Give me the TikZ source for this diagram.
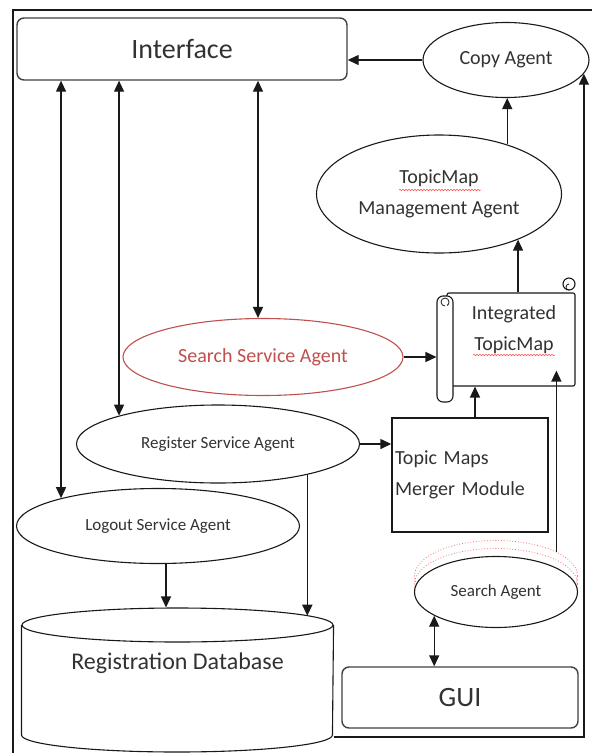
\documentclass[tikz,border=0pt]{standalone}
\usepackage{fontspec}
\setmainfont{Carlito}
\usetikzlibrary{shapes.geometric,arrows.meta,decorations.pathmorphing}

\definecolor{linegray}{RGB}{25,25,25}
\definecolor{textgray}{RGB}{50,50,50}
\definecolor{ssared}{RGB}{192,80,77}

\newcommand{\fontbig}{\fontsize{28}{34}\selectfont}
\newcommand{\fontmid}{\fontsize{20}{31}\selectfont}
\newcommand{\fontsmall}{\fontsize{17}{22}\selectfont}
\newcommand{\fontdb}{\fontsize{24}{29}\selectfont}

\tikzset{
  agent/.style={ellipse, draw=linegray, line width=1.1pt, fill=white, inner sep=0pt, text=textgray},
  panel/.style={draw=black!75, line width=1.4pt, rounded corners=7pt, text=textgray, font=\fontbig},
  arr/.style={-{Triangle[length=11pt,width=10pt]}, line width=1.4pt, draw=linegray},
  dbl/.style={{Triangle[length=11pt,width=10pt]}-{Triangle[length=11pt,width=10pt]}, line width=1.4pt, draw=linegray},
  spell/.style={draw=red!70, line width=0.5pt, decorate, decoration={snake, segment length=3pt, amplitude=0.8pt}},
}

\begin{document}
\begin{tikzpicture}[x=1pt, y=-1pt]
        \useasboundingbox (0,0) rectangle (592,753);

        % Frame round the picture
        \draw[line width=1.4pt, linegray] (13,753) -- (13,10) -- (592,10);

        % Top row
        \node[panel, minimum width=330pt, minimum height=62pt] (interface) at (182,49) {Interface};
        \node[agent, minimum width=166pt, minimum height=75pt, font=\fontmid] (copy) at (506,60) {Copy Agent};
        \node[agent, minimum width=245pt, minimum height=118pt, font=\fontmid, align=center] (mgmt) at (439,194) {TopicMap\\Management Agent};

        % Integrated topic map scroll
        \node[draw=linegray, line width=1.1pt, fill=white, rounded corners=2pt, minimum width=128pt, minimum height=93pt, inner sep=0pt] (integ) at (511,339.5) {};
        \node[draw=linegray, line width=1.1pt, fill=white, rounded corners=6pt, minimum width=16pt, minimum height=106pt, inner sep=0pt] (integcol) at (445,349) {};
        \draw[linegray, line width=1.1pt, fill=white] (569,284) circle (6pt);
        \draw[linegray, line width=0.8pt] (569,290) arc[start angle=270, end angle=90, radius=3pt];
        \draw[linegray, line width=0.8pt] (445,306) arc[start angle=270, end angle=-60, radius=4pt];
        \node[text=textgray, font=\fontmid, align=center] (integtext) at (514,330) {Integrated\\TopicMap};

        % Middle row
        \node[agent, draw=ssared, text=ssared, minimum width=280pt, minimum height=77pt, font=\fontmid] (ssa) at (263,357) {Search Service Agent};
        \node[agent, minimum width=283pt, minimum height=78pt, font=\fontsmall] (reg) at (218,444) {Register Service Agent};
        \node[agent, minimum width=283pt, minimum height=75pt, font=\fontsmall] (logout) at (158,526) {Logout Service Agent};
        \node[draw=linegray, line width=1.4pt, minimum height=114pt, text width=150pt, inner xsep=3pt, align=left, font=\fontmid, text=textgray] (merger) at (470,475) {Topic Maps\\Merger Module};

        % Search agent with its dotted red outlines
        \foreach \dy in {16,8} {
            \draw[red!60, dotted, line width=0.8pt] (496,592-\dy) ellipse [x radius=81.5pt, y radius=35.5pt];
        }
        \node[agent, minimum width=163pt, minimum height=71pt, font=\fontsmall] (sagent) at (496,592) {Search Agent};
        \node[panel, minimum width=236pt, minimum height=61pt] (gui) at (460,697.5) {GUI};

        % Registration database
        \node[ellipse, draw=linegray, line width=1.1pt, minimum width=311pt, minimum height=34pt, inner sep=0pt] (dbtop) at (177.5,625) {};
        \draw[linegray, line width=1.1pt] (dbtop.west) -- ++(0,110) arc[start angle=180, end angle=360, x radius=155.5pt, y radius=17pt] -- (dbtop.east);
        \node[text=textgray, font=\fontdb] (db) at (177.5,663) {Registration Database};
        \coordinate (dbout) at ([yshift=-112pt]dbtop.east);

        % Spelling marks
        \draw[spell] (399,190) -- (481,190);
        \draw[spell] (473,355) -- (555,355);

        % Arrows
        \draw[arr] (copy.west) -- (copy.west -| interface.east);
        \draw[arr] (mgmt.36) -- (mgmt.36 |- copy.south);
        \draw[arr] (integ.north -| mgmt.-30) -- (mgmt.-30);
        \draw[arr] (ssa.east) -- (ssa.east -| integcol.west);
        \draw[arr] ([xshift=5pt]merger.north) -- ([xshift=5pt]merger.north |- integ.south);
        \draw[arr] ([yshift=16pt]sagent.22) -- ([yshift=16pt]sagent.22 |- integ.south);
        \draw[arr] (reg.east) -- (reg.east -| merger.west);
        \draw[arr] (reg.-19) -- (reg.-19 |- dbtop.4);
        \draw[arr] ([xshift=8pt]logout.south) -- ([xshift=8pt]logout.south |- dbtop.north);
        \draw[arr] (dbout) -- (dbout -| copy.-10) -- (copy.-10);

        % Two-way arrows
        \foreach \a in {logout.164, reg.164} {
            \draw[dbl] (\a) -- (\a |- interface.south);
        }
        \draw[dbl] ([xshift=-5pt]ssa.north) -- ([xshift=-5pt]ssa.north |- interface.south);
        \draw[dbl] (sagent.-159) -- (sagent.-159 |- gui.north);

\end{tikzpicture}
\end{document}
